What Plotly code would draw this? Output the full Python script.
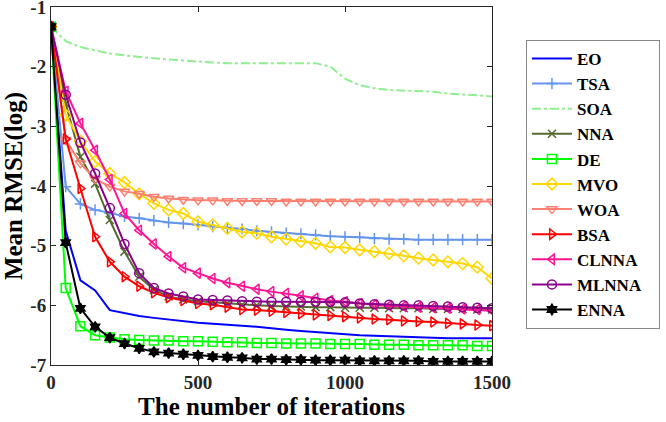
import plotly.graph_objects as go

iterations = [0, 50, 100, 150, 200, 250, 300, 350, 400, 450, 500, 550, 600, 650, 700, 750,
              800, 850, 900, 950, 1000, 1050, 1100, 1150, 1200, 1250, 1300, 1350, 1400, 1450, 1500]

EO = [-1.33, -4.75, -5.58, -5.75, -6.08, -6.13, -6.18, -6.21, -6.24, -6.27, -6.29, -6.31, -6.32, -6.34, -6.36, -6.39,
      -6.41, -6.43, -6.45, -6.47, -6.48, -6.50, -6.51, -6.52, -6.53, -6.54, -6.55, -6.55, -6.55, -6.55, -6.55]
TSA = [-1.33, -4.01, -4.30, -4.40, -4.45, -4.51, -4.54, -4.58, -4.61, -4.63, -4.65, -4.68, -4.70, -4.72, -4.75, -4.77,
       -4.79, -4.80, -4.82, -4.84, -4.85, -4.86, -4.88, -4.89, -4.89, -4.90, -4.90, -4.90, -4.90, -4.90, -4.90]
SOA = [-1.33, -1.57, -1.67, -1.73, -1.78, -1.81, -1.84, -1.86, -1.88, -1.90, -1.92, -1.93, -1.94, -1.94, -1.94, -1.94,
       -1.94, -1.94, -1.94, -2.00, -2.20, -2.31, -2.36, -2.39, -2.40, -2.40, -2.42, -2.45, -2.46, -2.48, -2.50]
NNA = [-1.33, -2.62, -3.51, -3.96, -4.57, -5.10, -5.52, -5.74, -5.85, -5.90, -5.93, -5.95, -5.97, -5.99, -6.00, -6.01,
       -6.02, -6.02, -6.03, -6.03, -6.04, -6.04, -6.04, -6.05, -6.05, -6.05, -6.06, -6.06, -6.06, -6.07, -6.07]
DE = [-1.33, -5.71, -6.35, -6.50, -6.54, -6.57, -6.58, -6.59, -6.59, -6.60, -6.60, -6.61, -6.62, -6.62, -6.63, -6.63,
      -6.64, -6.64, -6.64, -6.65, -6.65, -6.65, -6.66, -6.66, -6.66, -6.67, -6.67, -6.67, -6.67, -6.68, -6.68]
MVO = [-1.33, -2.81, -3.25, -3.59, -3.79, -3.94, -4.13, -4.29, -4.40, -4.46, -4.60, -4.65, -4.71, -4.77, -4.79, -4.85,
       -4.89, -4.93, -4.96, -5.02, -5.03, -5.07, -5.10, -5.13, -5.17, -5.21, -5.24, -5.27, -5.30, -5.36, -5.55]
WOA = [-1.33, -3.23, -3.62, -3.88, -4.01, -4.09, -4.13, -4.18, -4.21, -4.23, -4.24, -4.24, -4.25, -4.25, -4.25, -4.25,
       -4.26, -4.26, -4.26, -4.26, -4.26, -4.26, -4.26, -4.26, -4.26, -4.26, -4.26, -4.26, -4.26, -4.26, -4.26]
BSA = [-1.33, -3.21, -4.04, -4.85, -5.27, -5.52, -5.68, -5.79, -5.87, -5.92, -5.97, -5.99, -6.03, -6.07, -6.08, -6.10,
       -6.12, -6.14, -6.16, -6.17, -6.19, -6.21, -6.23, -6.24, -6.26, -6.27, -6.28, -6.30, -6.31, -6.33, -6.34]
CLNNA = [-1.33, -2.41, -2.95, -3.40, -3.89, -4.46, -4.74, -4.97, -5.18, -5.37, -5.46, -5.55, -5.62, -5.68, -5.73, -5.77,
         -5.80, -5.84, -5.88, -5.92, -5.94, -5.97, -5.99, -6.01, -6.02, -6.03, -6.04, -6.05, -6.06, -6.07, -6.09]
MLNNA = [-1.33, -2.47, -3.27, -3.79, -4.37, -4.97, -5.46, -5.71, -5.80, -5.85, -5.90, -5.91, -5.92, -5.93, -5.94, -5.94,
         -5.94, -5.94, -5.94, -5.94, -5.95, -5.97, -5.98, -5.99, -6.00, -6.00, -6.01, -6.02, -6.03, -6.04, -6.05]
ENNA = [-1.33, -4.95, -6.05, -6.36, -6.54, -6.64, -6.72, -6.78, -6.80, -6.82, -6.84, -6.86, -6.87, -6.88, -6.90, -6.90,
        -6.91, -6.91, -6.92, -6.92, -6.92, -6.93, -6.93, -6.93, -6.93, -6.93, -6.94, -6.94, -6.94, -6.94, -6.94]

x_ticks = [0, 500, 1000, 1500]
y_ticks = [-7, -6, -5, -4, -3, -2, -1]

series = [
    ("EO", EO, "#0000FF", None, "solid"),
    ("TSA", TSA, "#6495ED", "cross-thin-open", "solid"),
    ("SOA", SOA, "#90EE90", None, "dashdot"),
    ("NNA", NNA, "#556B2F", "x-thin-open", "solid"),
    ("DE", DE, "#00FF00", "square-open", "solid"),
    ("MVO", MVO, "#FFD700", "diamond-open", "solid"),
    ("WOA", WOA, "#FA8072", "triangle-down-open", "solid"),
    ("BSA", BSA, "#FF0000", "triangle-right-open", "solid"),
    ("CLNNA", CLNNA, "#FF1493", "triangle-left-open", "solid"),
    ("MLNNA", MLNNA, "#8B008B", "circle-open", "solid"),
    ("ENNA", ENNA, "#000000", "hexagram", "solid"),
]

font_family = "Liberation Serif, Times New Roman, serif"
pad = "\u00a0" * 3

fig = go.Figure()
for name, vals, color, sym, dash in series:
    label = "<b>" + name + "</b>" + pad
    if sym is None:
        fig.add_trace(go.Scatter(x=iterations, y=vals, name=label, mode="lines",
                                 line=dict(color=color, width=2, dash=dash)))
    else:
        msize = 8 if sym in ("cross-thin-open", "x-thin-open", "hexagram") else 9
        fig.add_trace(go.Scatter(x=iterations, y=vals, name=label, mode="lines+markers",
                                 line=dict(color=color, width=2, dash=dash),
                                 marker=dict(symbol=sym, size=msize, color=color,
                                             line=dict(color=color, width=1.5))))

axis_common = dict(
    showline=True, linecolor="#262626", linewidth=1, mirror="allticks",
    ticks="inside", ticklen=5, tickcolor="#262626", showgrid=False, zeroline=False,
    tickfont=dict(family=font_family, size=19, color="#262626"),
    ticklabeloverflow="allow", automargin=False,
)

fig.update_layout(
    width=666, height=422,
    margin=dict(l=51, r=174, t=7, b=57, autoexpand=False),
    paper_bgcolor="white", plot_bgcolor="white",
    font=dict(family=font_family, color="#000000"),
    xaxis=dict(range=[0, 1500], tickvals=x_ticks, ticktext=["<b>%d</b>" % v for v in x_ticks],
               title=dict(text="<b>The number of iterations</b>", font=dict(family=font_family, size=25),
                          standoff=2),
               **axis_common),
    yaxis=dict(range=[-7, -0.999], tickvals=y_ticks, ticktext=["<b>%d</b>" % v for v in y_ticks],
               title=dict(text="<b>Mean RMSE(log)</b>", font=dict(family=font_family, size=25),
                          standoff=2),
               **axis_common),
    legend=dict(x=1.077, y=0.908, xanchor="left", yanchor="top",
                bordercolor="#888888", borderwidth=1, bgcolor="white",
                font=dict(family=font_family, size=17, color="#000000"),
                itemwidth=40, tracegroupgap=0),
    showlegend=True,
)

fig.write_html("out.html")
